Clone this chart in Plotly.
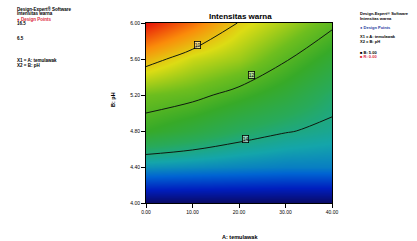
import plotly.graph_objects as go

# ---- data ----
x_vals = [0, 10, 20, 30, 40]                 # A: temulawak
y_vals = [4.0, 4.4, 4.8, 5.2, 5.6, 6.0]      # B: pH
z_rows = [
    [6.5, 6.5, 6.5, 6.5, 6.5],
    [9.2, 9.1, 9.0, 8.9, 8.9],
    [11.5, 11.0, 10.45, 10.06, 9.8],
    [12.5, 12.24, 11.7, 11.1, 10.31],
    [14.4, 13.5, 13.01, 12.08, 11.2],
    [16.5, 15.35, 13.95, 13.1, 12.19],
]
contour_levels = [10, 12, 14]
label_x = [11.0, 22.6, 21.3]
label_y = [5.756, 5.42, 4.71]
x_ticks = [0, 10, 20, 30, 40]
x_ticktext = ["0.00", "10.00", "20.00", "30.00", "40.00"]
y_ticks = [4.0, 4.4, 4.8, 5.2, 5.6, 6.0]
y_ticktext = ["4.00", "4.40", "4.80", "5.20", "5.60", "6.00"]

W, H = 417, 241
L, R, T, B = 146, 332, 23, 203

colorscale = [
    [0.0, "rgb(10,10,100)"],
    [0.1, "rgb(0,30,190)"],
    [0.2, "rgb(0,100,210)"],
    [0.3, "rgb(20,165,170)"],
    [0.4, "rgb(40,170,90)"],
    [0.5, "rgb(55,170,40)"],
    [0.6, "rgb(110,190,30)"],
    [0.72, "rgb(220,220,20)"],
    [0.85, "rgb(250,140,10)"],
    [1.0, "rgb(230,20,10)"],
]

fig = go.Figure()
fig.add_trace(go.Contour(
    x=x_vals, y=y_vals, z=z_rows,
    zmin=6.5, zmax=16.5,
    colorscale=colorscale, showscale=False,
    contours=dict(coloring="heatmap", start=contour_levels[0],
                  end=contour_levels[-1], size=contour_levels[1] - contour_levels[0]),
    line=dict(color="rgb(15,25,15)", width=1.0, smoothing=1.0),
    hoverinfo="skip",
))

def px(xp):
    return (xp - L) / (R - L)

def py(yp):
    return (B - yp) / (B - T)

FONT = "Liberation Sans"
ann = []
for lx, ly, lv in zip(label_x, label_y, contour_levels):
    ann.append(dict(x=lx, y=ly, xref="x", yref="y", text=str(lv), showarrow=False,
                    font=dict(size=5, color="black", family=FONT),
                    bgcolor="rgba(255,255,255,0.5)", bordercolor="black",
                    borderwidth=0.8, borderpad=0))

def txt(xp, yp, s, color="black", size=4.5, bold=True):
    ann.append(dict(x=px(xp), y=py(yp), xref="paper", yref="paper",
                    text=("<b>%s</b>" % s) if bold else s, showarrow=False,
                    xanchor="left", yanchor="middle",
                    font=dict(size=size, color=color, family=FONT)))

# left block
txt(15, 9, "Design-Expert® Software")
txt(15, 14, "Intensitas warna")
txt(15, 19, "● Design Points", color="rgb(220,40,60)")
txt(15, 24, "16.5")
txt(15, 38, "6.5")
txt(15, 60, "X1 = A: temulawak")
txt(15, 65, "X2 = B: pH")
# right block
txt(358, 14, "Design-Expert® Software", size=4)
txt(358, 18, "Intensitas warna", size=4)
txt(358, 27, "● Design Points", color="rgb(40,60,160)", size=4)
txt(358, 37, "X1 = A: temulawak", size=4)
txt(358, 41, "X2 = B: pH", size=4)
txt(358, 52, "■ B: 5.00", size=4)
txt(358, 56, "■ R: 0.00", color="rgb(220,40,60)", size=4)

# title & axis titles
ann.append(dict(x=px(240), y=py(17), xref="paper", yref="paper", text="<b>Intensitas warna</b>",
                showarrow=False, xanchor="center", yanchor="middle",
                font=dict(size=8, color="black", family=FONT)))
ann.append(dict(x=px(240), y=py(237), xref="paper", yref="paper", text="<b>A: temulawak</b>",
                showarrow=False, xanchor="center", yanchor="middle",
                font=dict(size=5.5, color="black", family=FONT)))
ann.append(dict(x=px(113), y=py(100), xref="paper", yref="paper", text="<b>B: pH</b>",
                showarrow=False, textangle=-90, xanchor="center", yanchor="middle",
                font=dict(size=5.5, color="black", family=FONT)))

fig.update_layout(
    width=W, height=H,
    margin=dict(l=L, r=W - R, t=T, b=H - B, pad=0),
    paper_bgcolor="white", plot_bgcolor="white",
    annotations=ann, showlegend=False,
    xaxis=dict(range=[0, 40], tickvals=x_ticks, ticktext=x_ticktext, ticks="outside",
               ticklen=4, tickwidth=1, tickcolor="black", showline=True, linecolor="black",
               linewidth=1, mirror=True, showgrid=False, zeroline=False,
               tickfont=dict(size=5, color="black", family=FONT)),
    yaxis=dict(range=[4.0, 6.0], tickvals=y_ticks, ticktext=y_ticktext, ticks="outside",
               ticklen=4, tickwidth=1, tickcolor="black", showline=True, linecolor="black",
               linewidth=1, mirror=True, showgrid=False, zeroline=False,
               tickfont=dict(size=5, color="black", family=FONT)),
)

fig.write_html("out.html", config={"displayModeBar": False},
               post_script="document.body.style.margin='0';document.body.style.padding='0';")
